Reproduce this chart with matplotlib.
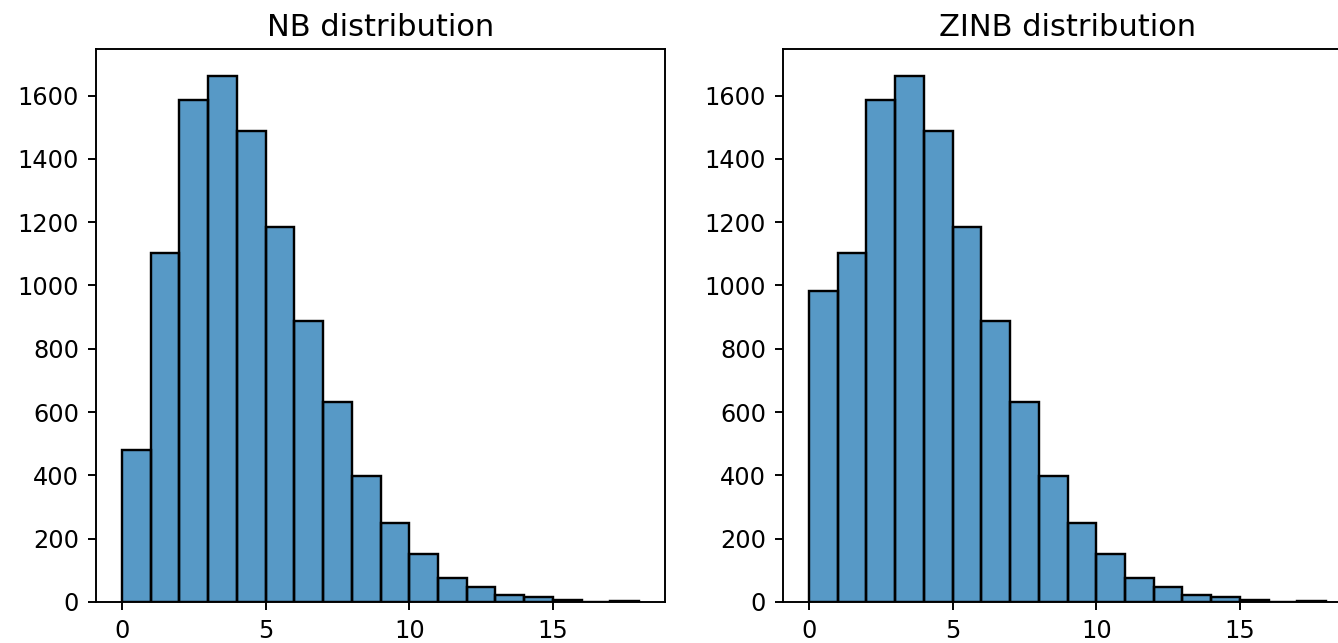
import numpy as np
import matplotlib
matplotlib.use("Agg")
import matplotlib.pyplot as plt

# counts per unit-wide bin (bins 0-1, 1-2, ..., 17-18)
bin_edges = np.arange(0, 19)
nb_counts = [480, 1104, 1587, 1663, 1489, 1186, 887, 631, 398, 249,
             151, 76, 47, 21, 15, 7, 0, 3]
zinb_counts = [982, 1104, 1587, 1663, 1489, 1186, 887, 631, 398, 249,
               151, 76, 47, 21, 15, 7, 0, 3]
titles = ["NB distribution", "ZINB distribution"]

s = 1.73  # scale factor for line widths / fonts
plt.rcParams.update({
    "font.size": 10 * s,
    "axes.linewidth": 0.8 * s,
    "xtick.major.width": 0.8 * s,
    "ytick.major.width": 0.8 * s,
    "xtick.major.size": 3.5 * s,
    "ytick.major.size": 3.5 * s,
    "xtick.major.pad": 3.5 * s,
    "ytick.major.pad": 3.5 * s,
})

fig = plt.figure(figsize=(13.38, 6.43), dpi=100)
ax1 = fig.add_axes([0.07175, 0.0638, 0.4253, 0.8596])
ax2 = fig.add_axes([0.5852, 0.0638, 0.4253, 0.8596])

for ax, counts, title in zip([ax1, ax2], [nb_counts, zinb_counts], titles):
    ax.hist(bin_edges[:-1], bins=bin_edges, weights=counts,
            color="#1f77b4", alpha=0.75, edgecolor="none")
    # edges at full opacity
    ax.hist(bin_edges[:-1], bins=bin_edges, weights=counts,
            histtype="bar", fill=False, edgecolor="black", linewidth=1.0 * s)
    ax.set_title(title, fontsize=22, pad=9.5)
    ax.set_xticks([0, 5, 10, 15])
    ax.set_yticks(np.arange(0, 1601, 200))

fig.savefig("out.png", dpi=100)
